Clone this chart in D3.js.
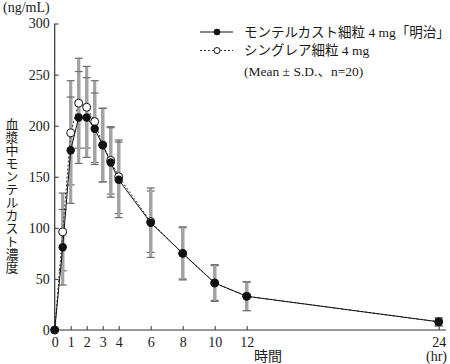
<!DOCTYPE html>
<html><head><meta charset="utf-8">
<script src="https://cdn.jsdelivr.net/npm/d3@7"></script>
<style>
html,body{margin:0;padding:0;background:#fff;}
svg{display:block;}
text{fill:#1a1a1a;}
</style></head>
<body>
<script>
const times = [0, 0.5, 1, 1.5, 2, 2.5, 3, 3.5, 4, 6, 8, 10, 12, 24];
const meiji = [0, 81, 176, 208, 208, 197, 181, 164, 147, 105, 75, 46, 33, 8];
const meijiSD = [0, 37, 52, 45, 39, 35, 36, 34, 37, 34, 26, 18, 14, 4];
const singulair = [0, 96, 193, 222, 218, 204, 181, 166, 150, 106, 75, 46, 33, 8];
const singulairSD = [0, 38, 51, 44, 40, 40, 36, 33, 36, 30, 25, 17, 14, 4];
const xTicks = [0, 1, 2, 3, 4, 6, 8, 10, 12, 24];
const yTicks = [0, 50, 100, 150, 200, 250, 300];
const seriesNames = ["モンテルカスト細粒 4 mg「明治」", "シングレア細粒 4 mg"];
const note = "(Mean ± S.D.、n=20)";
const yTitle = "血漿中モンテルカスト濃度";
const yUnit = "(ng/mL)";
const xTitle = "時間";
const xUnit = "(hr)";

const W = 450, H = 364;
const serif = "'Liberation Serif','Noto Sans CJK JP',serif";
const svg = d3.select("body").append("svg").attr("width", W).attr("height", H);

const x = d3.scaleLinear().domain([0, 24]).range([54.7, 438.7]);
const y = d3.scaleLinear().domain([0, 300]).range([330, 23.5]);

// axes
const yAxis = d3.axisLeft(y).tickValues(yTicks).tickSizeInner(-4).tickSizeOuter(0).tickPadding(5);
const gy = svg.append("g").attr("transform", `translate(${x(0)},0)`).call(yAxis);
gy.select(".domain").remove();
gy.selectAll(".tick line").attr("stroke", "#333");
gy.selectAll("text").attr("font-family", serif).attr("font-size", 14).attr("fill", "#1a1a1a");

const xAxis = d3.axisBottom(x).tickValues(xTicks).tickSizeInner(-4).tickSizeOuter(0).tickPadding(7);
const gx = svg.append("g").attr("transform", `translate(0,${y(0)})`).call(xAxis);
gx.select(".domain").remove();
gx.selectAll(".tick line").attr("stroke", "#333");
gx.selectAll("text").attr("font-family", serif).attr("font-size", 14).attr("fill", "#1a1a1a").attr("dy", "0.72em");

svg.append("line").attr("x1", x(0)).attr("x2", x(0)).attr("y1", y(0)).attr("y2", y(300)).attr("stroke", "#333").attr("stroke-width", 1.2);
svg.append("line").attr("x1", x(0)).attr("x2", 446).attr("y1", y(0)).attr("y2", y(0)).attr("stroke", "#333").attr("stroke-width", 1.2);

// error bars
function errBars(vals, sds) {
  const g = svg.append("g");
  times.forEach((t, i) => {
    if (sds[i] <= 0) return;
    const cx = x(t), top = y(vals[i] + sds[i]), bot = y(vals[i] - sds[i]);
    g.append("rect").attr("x", cx - 1.6).attr("width", 3.2).attr("y", top).attr("height", bot - top).attr("fill", "#a3a3a3");
    [top, bot].forEach(v => g.append("line").attr("x1", cx - 4).attr("x2", cx + 4).attr("y1", v).attr("y2", v).attr("stroke", "#6e6e6e").attr("stroke-width", 1.2));
  });
}
errBars(singulair, singulairSD);
errBars(meiji, meijiSD);

const line = d3.line().x(d => x(d[0])).y(d => y(d[1]));
svg.append("path").datum(times.map((t, i) => [t, singulair[i]])).attr("d", line)
  .attr("fill", "none").attr("stroke", "#333").attr("stroke-width", 1).attr("stroke-dasharray", "2,2");
svg.append("path").datum(times.map((t, i) => [t, meiji[i]])).attr("d", line)
  .attr("fill", "none").attr("stroke", "#111").attr("stroke-width", 1);

svg.append("g").selectAll("circle").data(times.map((t, i) => [t, singulair[i]])).join("circle")
  .attr("cx", d => x(d[0])).attr("cy", d => y(d[1])).attr("r", 4)
  .attr("fill", "#fff").attr("stroke", "#111").attr("stroke-width", 1);
svg.append("g").selectAll("circle").data(times.map((t, i) => [t, meiji[i]])).join("circle")
  .attr("cx", d => x(d[0])).attr("cy", d => y(d[1])).attr("r", 4.2)
  .attr("fill", "#111");

// legend
const lg = svg.append("g");
lg.append("line").attr("x1", 200).attr("x2", 233).attr("y1", 32).attr("y2", 32).attr("stroke", "#111");
lg.append("circle").attr("cx", 217).attr("cy", 32).attr("r", 3.3).attr("fill", "#111");
lg.append("line").attr("x1", 200).attr("x2", 233).attr("y1", 50.5).attr("y2", 50.5).attr("stroke", "#333").attr("stroke-dasharray", "2,2");
lg.append("circle").attr("cx", 217).attr("cy", 50.5).attr("r", 3).attr("fill", "#fff").attr("stroke", "#111");
[[seriesNames[0], 32], [seriesNames[1], 50.5], [note, 71]].forEach(([s, yy]) => {
  lg.append("text").attr("x", 244).attr("y", yy).attr("dy", "0.36em").attr("font-family", serif).attr("font-size", 13.5).text(s);
});

// titles
svg.append("text").attr("x", 3).attr("y", 12).attr("font-family", serif).attr("font-size", 14).text(yUnit);
svg.append("text").attr("x", 12).attr("y", 118).attr("font-family", "'Noto Sans CJK JP',sans-serif").attr("font-size", 13)
  .style("writing-mode", "vertical-rl").style("text-orientation", "upright").text(yTitle);
svg.append("text").attr("x", 268).attr("y", 361).attr("text-anchor", "middle").attr("font-family", serif).attr("font-size", 14).text(xTitle);
svg.append("text").attr("x", 426).attr("y", 361).attr("font-family", serif).attr("font-size", 14).text(xUnit);
</script>
</body></html>
